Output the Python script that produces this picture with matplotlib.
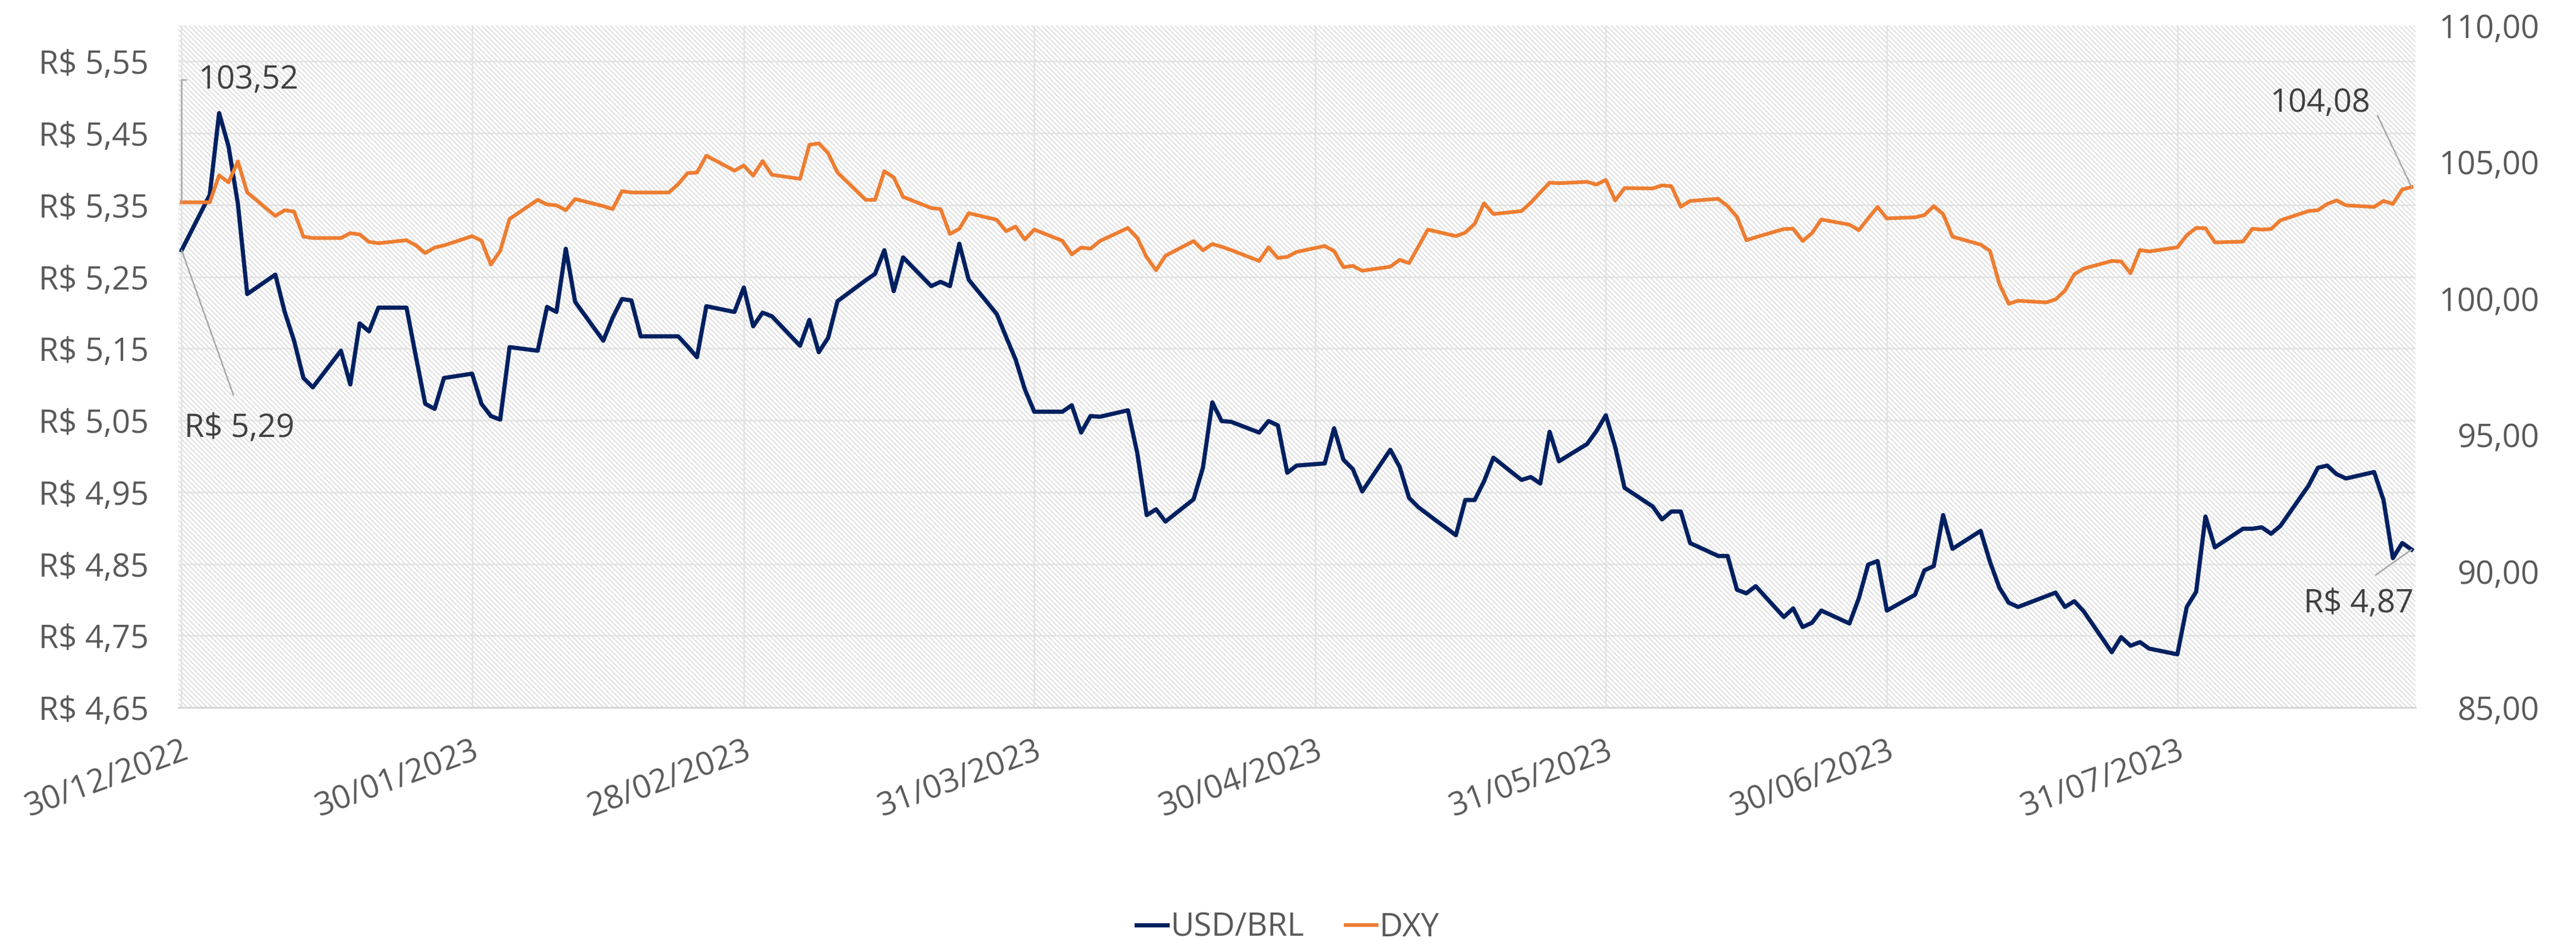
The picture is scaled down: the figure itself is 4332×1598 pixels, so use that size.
import numpy as np
import pandas as pd
import matplotlib
matplotlib.use("Agg")
import matplotlib.pyplot as plt
import matplotlib.dates as mdates
from matplotlib.patches import Rectangle
from matplotlib.ticker import FixedLocator, FuncFormatter

plt.rcParams['font.family'] = ['Open Sans', 'DejaVu Sans']
plt.rcParams['hatch.linewidth'] = 0.4

# business days 30/12/2022 .. 25/08/2023
dates = pd.bdate_range('2022-12-30', '2023-08-25')

usd_brl = [
    5.287,
    5.364, 5.478, 5.432, 5.352, 5.226,
    5.253, 5.201, 5.161, 5.109, 5.096,
    5.147, 5.100, 5.185, 5.174, 5.207,
    5.207, 5.139, 5.073, 5.066, 5.109,
    5.115, 5.073, 5.056, 5.051, 5.152,
    5.147, 5.208, 5.201, 5.289, 5.215,
    5.161, 5.193, 5.219, 5.217, 5.167,
    5.167, 5.167, 5.153, 5.138, 5.209,
    5.201, 5.235, 5.181, 5.200, 5.195,
    5.154, 5.190, 5.145, 5.165, 5.216,
    5.245, 5.254, 5.287, 5.230, 5.277,
    5.237, 5.243, 5.237, 5.296, 5.246,
    5.198, 5.166, 5.135, 5.093, 5.062,
    5.062, 5.071, 5.033, 5.056, 5.055,
    5.064, 5.004, 4.918, 4.926, 4.909,
    4.940, 4.984, 5.075, 5.049, 5.048,
    5.033, 5.049, 5.043, 4.977, 4.987,
    4.990, 5.039, 4.995, 4.982, 4.951,
    5.009, 4.985, 4.942, 4.929, 4.919,
    4.890, 4.939, 4.939, 4.965, 4.998,
    4.967, 4.971, 4.962, 5.034, 4.993,
    5.017, 5.035, 5.057, 5.013, 4.956,
    4.930, 4.912, 4.923, 4.923, 4.879,
    4.861, 4.861, 4.814, 4.809, 4.819,
    4.776, 4.788, 4.762, 4.768, 4.785,
    4.767, 4.802, 4.849, 4.854, 4.785,
    4.807, 4.841, 4.847, 4.918, 4.871,
    4.896, 4.853, 4.817, 4.796, 4.790,
    4.805, 4.810, 4.790, 4.798, 4.784,
    4.727, 4.748, 4.736, 4.741, 4.732,
    4.724, 4.790, 4.811, 4.916, 4.873,
    4.899, 4.899, 4.901, 4.892, 4.903,
    4.959, 4.984, 4.987, 4.975, 4.969,
    4.978, 4.939, 4.858, 4.879, 4.870,
]

dxy = [
    103.52,
    103.52, 104.51, 104.25, 105.02, 103.88,
    103.02, 103.23, 103.18, 102.26, 102.21,
    102.21, 102.39, 102.34, 102.07, 102.02,
    102.13, 101.94, 101.66, 101.86, 101.94,
    102.28, 102.11, 101.24, 101.74, 102.91,
    103.61, 103.44, 103.41, 103.23, 103.64,
    103.38, 103.27, 103.93, 103.88, 103.88,
    103.88, 104.19, 104.59, 104.61, 105.23,
    104.68, 104.87, 104.50, 105.03, 104.53,
    104.38, 105.63, 105.68, 105.32, 104.61,
    103.61, 103.61, 104.66, 104.43, 103.72,
    103.31, 103.27, 102.36, 102.55, 103.12,
    102.88, 102.46, 102.63, 102.16, 102.52,
    102.11, 101.61, 101.86, 101.82, 102.10,
    102.58, 102.21, 101.50, 101.03, 101.56,
    102.10, 101.76, 101.99, 101.89, 101.77,
    101.37, 101.87, 101.48, 101.52, 101.70,
    101.92, 101.73, 101.14, 101.19, 101.01,
    101.16, 101.41, 101.29, 101.90, 102.52,
    102.28, 102.41, 102.73, 103.48, 103.09,
    103.20, 103.51, 103.88, 104.24, 104.22,
    104.27, 104.17, 104.34, 103.59, 104.04,
    104.03, 104.14, 104.11, 103.36, 103.57,
    103.65, 103.38, 102.99, 102.13, 102.24,
    102.54, 102.55, 102.10, 102.39, 102.89,
    102.70, 102.50, 102.93, 103.35, 102.93,
    102.97, 103.05, 103.38, 103.09, 102.26,
    101.97, 101.74, 100.53, 99.80, 99.91,
    99.85, 99.96, 100.28, 100.88, 101.09,
    101.37, 101.35, 100.92, 101.77, 101.72,
    101.87, 102.31, 102.58, 102.57, 102.05,
    102.08, 102.55, 102.52, 102.54, 102.86,
    103.20, 103.23, 103.46, 103.59, 103.41,
    103.35, 103.57, 103.46, 103.99, 104.08,
]

x_ticks = ['2022-12-30', '2023-01-30', '2023-02-28', '2023-03-31',
           '2023-04-30', '2023-05-31', '2023-06-30', '2023-07-31']
usd_ticks = [4.65, 4.75, 4.85, 4.95, 5.05, 5.15, 5.25, 5.35, 5.45, 5.55]
dxy_ticks = [85, 90, 95, 100, 105, 110]

navy = '#002060'
orange = '#ED7D31'
txt = '#595959'
lbl = '#404040'
fs = 13

fig = plt.figure(figsize=(4332 / 300, 1598 / 300), dpi=300)
ax = fig.add_axes([0.0693, 0.2553, 0.8684, 0.7178])
ax2 = ax.twinx()

# hatched plot background
ax.add_patch(Rectangle((0, 0), 1, 1, transform=ax.transAxes, facecolor='white',
                       edgecolor='#dadada', hatch='\\' * 12, lw=0, zorder=0))

l1, = ax.plot(dates, usd_brl, color=navy, lw=1.7, zorder=3, label='USD/BRL')
l2, = ax2.plot(dates, dxy, color=orange, lw=1.5, zorder=3, label='DXY')

ax.set_xlim(dates[0] - pd.Timedelta(hours=8), dates[-1] + pd.Timedelta(hours=10))
ax.set_ylim(4.65, 5.60)
ax2.set_ylim(85, 110)

ax.xaxis.set_major_locator(FixedLocator(mdates.date2num(pd.to_datetime(x_ticks))))
ax.xaxis.set_major_formatter(mdates.DateFormatter('%d/%m/%Y'))
ax.yaxis.set_major_locator(FixedLocator(usd_ticks))
ax.yaxis.set_major_formatter(FuncFormatter(lambda v, p: ('R$ %.2f' % v).replace('.', ',')))
ax2.yaxis.set_major_locator(FixedLocator(dxy_ticks))
ax2.yaxis.set_major_formatter(FuncFormatter(lambda v, p: ('%.2f' % v).replace('.', ',')))

ax.set_axisbelow(True)
ax.grid(True, color='#e2e2e2', lw=0.6)

for a in (ax, ax2):
    for s in a.spines.values():
        s.set_visible(False)
ax.spines['bottom'].set_visible(True)
ax.spines['bottom'].set_color('#d4d4d4')
ax.spines['bottom'].set_linewidth(0.7)

ax.tick_params(axis='y', length=0, pad=12, labelsize=fs, labelcolor=txt)
ax.tick_params(axis='x', length=0, pad=11, labelsize=fs, labelcolor=txt)
ax2.tick_params(axis='y', length=0, pad=50, labelsize=fs, labelcolor=txt)
for t in ax2.get_yticklabels():
    t.set_horizontalalignment('right')
for t in ax.get_xticklabels():
    t.set_rotation(20)
    t.set_horizontalalignment('right')
    t.set_verticalalignment('top')
    t.set_rotation_mode('anchor')

lead = dict(arrowstyle='-', color='#a6a6a6', lw=0.6, shrinkB=0)

ax2.annotate('103,52', xy=(dates[0], dxy[0]), xytext=(6.7, 49.4), textcoords='offset points',
             ha='left', va='center', fontsize=fs, color=lbl,
             arrowprops=dict(lead, relpos=(0, 0.5), shrinkA=3,
                             connectionstyle='angle,angleA=0,angleB=90,rad=0'))
ax.annotate('R$ 5,29', xy=(dates[0], usd_brl[0]), xytext=(23.3, -71.8), textcoords='offset points',
            ha='center', va='center', fontsize=fs, color=lbl,
            arrowprops=dict(lead, relpos=(0.5, 1), shrinkA=5))
ax2.annotate('104,08', xy=(dates[-1], dxy[-1]), xytext=(-16.8, 33.8), textcoords='offset points',
             ha='right', va='center', fontsize=fs, color=lbl,
             arrowprops=dict(lead, relpos=(1, 0.5), shrinkA=2.4,
                             connectionstyle='arc,angleA=0,armA=2.9,armB=0,rad=0'))
ax.annotate('R$ 4,87', xy=(dates[-1], usd_brl[-1]), xytext=(-21.4, -21.8), textcoords='offset points',
            ha='center', va='center', fontsize=fs, color=lbl,
            arrowprops=dict(lead, relpos=(0.5, 1), shrinkA=5))

leg = fig.legend([l1, l2], ['USD/BRL', 'DXY'], loc='lower center', bbox_to_anchor=(0.5, -0.024),
                 ncol=2, frameon=False, fontsize=fs, handlelength=0.95, handletextpad=0.1,
                 columnspacing=1.3)
for t in leg.get_texts():
    t.set_color(txt)

fig.savefig('out.png', dpi=300)
